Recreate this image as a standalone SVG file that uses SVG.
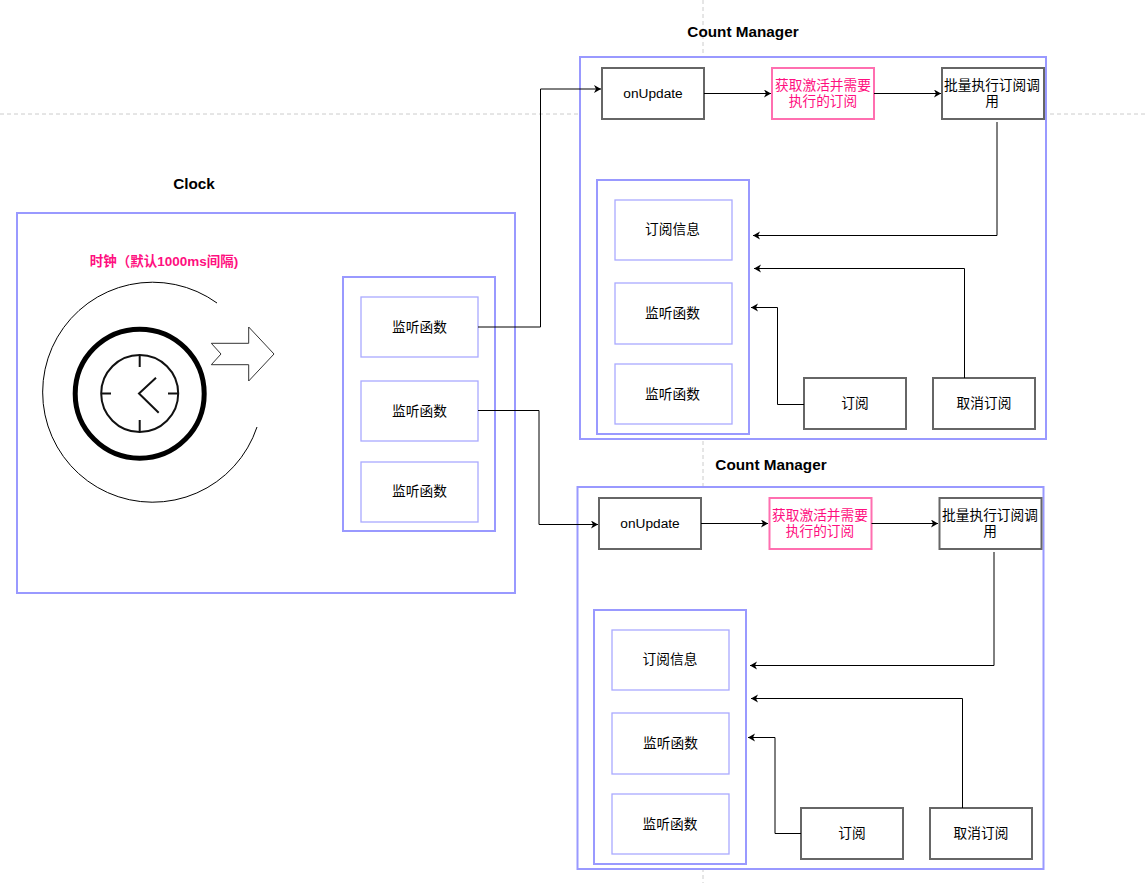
<svg xmlns="http://www.w3.org/2000/svg" width="1145" height="883" viewBox="0 0 1145 883">
<style>
text{font-family:"Liberation Sans","Noto Sans CJK SC",sans-serif;font-size:13.700px;text-anchor:middle;fill:#000}
.t{font-weight:bold;font-size:15.300px}
.c{fill:#fff;stroke:#9999ff;stroke-width:2}
.i{fill:#fff;stroke:#aaaaff;stroke-width:1.3}
.n{fill:#fff;stroke:#666;stroke-width:2}
.p{fill:#fff;stroke:#ff6fb0;stroke-width:2}
.pt{fill:#ff0f80}
.e{fill:none;stroke:#000;stroke-width:1;marker-end:url(#a)}
</style>
<defs>
<marker id="a" markerWidth="10" markerHeight="10" refX="7" refY="4" orient="auto" markerUnits="userSpaceOnUse"><path d="M0 0L7 4L0 8L2 4Z" fill="#000"/></marker>
<g id="list"><rect class="c" x="597" y="180" width="152" height="254"/><rect class="i" x="615" y="200" width="117" height="60"/><rect class="i" x="615" y="283" width="117" height="61"/><rect class="i" x="615" y="364" width="117" height="60"/></g>
</defs>
<rect width="1145" height="883" fill="#fff"/>
<g stroke="#ccc" stroke-dasharray="4 3"><path d="M0 114H1145M703 0V883" fill="none"/></g>

<g id="clock">
<rect class="c" x="17" y="213" width="498" height="380"/>
<text class="t" x="194" y="189">Clock</text>
<text x="164" y="266" style="font-size:13.500px;font-weight:bold;fill:#ff0f80">时钟（默认1000ms间隔)</text>
<path d="M217 303A110 110 0 1 0 257 427" fill="none" stroke="#000"/>
<circle cx="139.700" cy="393.700" r="64.500" fill="none" stroke="#000" stroke-width="5"/>
<g fill="none" stroke="#111" stroke-width="2"><circle cx="139.700" cy="393.500" r="38.500"/>
<path d="M139.700 355V367M139.700 420V432M101 393.500H111M168 393.500H178M156 377.700L139 393.500L158.700 412.700"/></g>
<polygon points="211.300,343.300 248.700,343.300 248.700,327 274,354 248.700,381 248.700,364.700 211.300,364.700 221,354" fill="#fff" stroke="#333"/>
<rect class="c" x="343" y="277" width="152" height="254"/>
<rect class="i" x="361" y="297" width="117" height="60"/><rect class="i" x="361" y="381" width="117" height="60"/><rect class="i" x="361" y="462" width="117" height="60"/>
<text x="419.500" y="332">监听函数</text><text x="419.500" y="416">监听函数</text><text x="419.500" y="496">监听函数</text>
</g>

<g id="cm1">
<rect class="c" x="580" y="57" width="466" height="382"/>
<text class="t" x="743" y="37">Count Manager</text>
<rect class="n" x="602" y="68" width="102" height="51"/><text x="653" y="98">onUpdate</text>
<rect class="p" x="772" y="68" width="102" height="51"/><text class="pt" x="823" y="90">获取激活并需要</text><text class="pt" x="823" y="106">执行的订阅</text>
<rect class="n" x="942" y="68" width="102" height="51"/><text x="992" y="90">批量执行订阅调</text><text x="992" y="106">用</text>
<use href="#list"/>
<text x="672.500" y="234">订阅信息</text><text x="672.500" y="318">监听函数</text><text x="672.500" y="399">监听函数</text>
<rect class="n" x="804" y="378" width="102" height="51"/><text x="855" y="408">订阅</text>
<rect class="n" x="933" y="378" width="102" height="51"/><text x="984" y="408">取消订阅</text>
</g>

<g id="cm2">
<rect class="c" x="577.500" y="487" width="466" height="382"/>
<text class="t" x="771" y="470">Count Manager</text>
<rect class="n" x="599" y="498" width="102" height="51"/><text x="650" y="528">onUpdate</text>
<rect class="p" x="769.500" y="498" width="102" height="51"/><text class="pt" x="820" y="520">获取激活并需要</text><text class="pt" x="820" y="536">执行的订阅</text>
<rect class="n" x="939.500" y="498" width="102" height="51"/><text x="990" y="520">批量执行订阅调</text><text x="990" y="536">用</text>
<use href="#list" x="-3" y="430"/>
<text x="670" y="664">订阅信息</text><text x="670.500" y="748">监听函数</text><text x="670" y="829">监听函数</text>
<rect class="n" x="801" y="808" width="102" height="51"/><text x="852" y="838">订阅</text>
<rect class="n" x="930" y="808" width="102" height="51"/><text x="981" y="838">取消订阅</text>
</g>

<g id="connectors">
<path class="e" d="M478 327H540.500V89H601"/>
<path class="e" d="M478 410.500H539V524.500H598"/>
<path class="e" d="M704 93.500H771"/><path class="e" d="M874 93.500H941"/>
<path class="e" d="M997 122V235.500H753"/>
<path class="e" d="M804 404.500H777.500V307.500H751"/>
<path class="e" d="M964.500 378V268.500H754"/>
<path class="e" d="M701 523.500H768"/><path class="e" d="M871.500 523.500H938"/>
<path class="e" d="M994 552V665.500H750"/>
<path class="e" d="M801 833.500H775V737.500H748"/>
<path class="e" d="M962.500 808V698.500H751"/>
</g>
</svg>
